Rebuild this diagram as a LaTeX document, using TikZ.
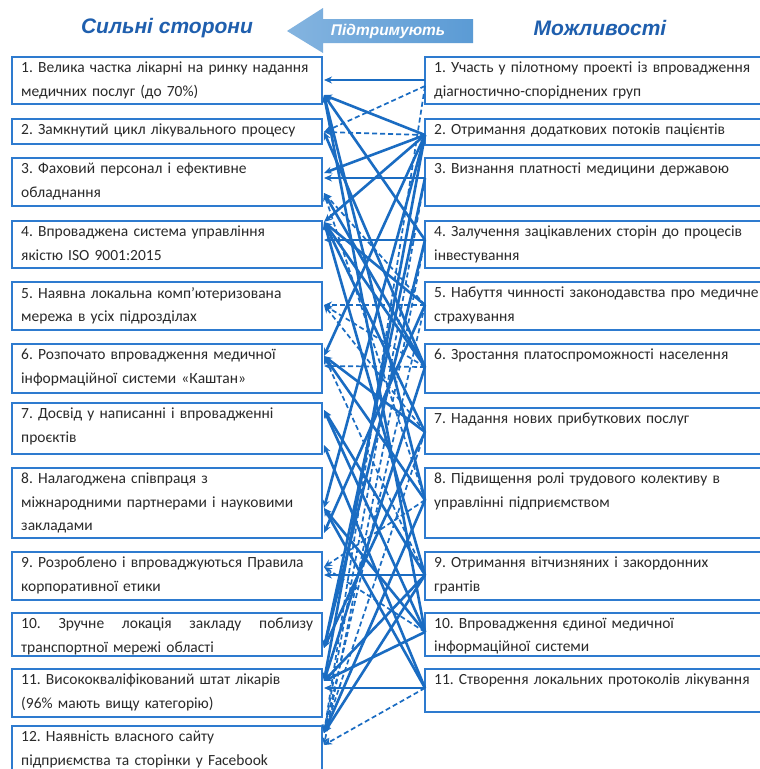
\documentclass[tikz,border=0pt]{standalone}
\usepackage{fontspec}
\setmainfont{Carlito}
\newfontfamily\headfont{Liberation Sans}
\usetikzlibrary{arrows.meta}
\frenchspacing
\definecolor{boxblue}{HTML}{2E7BCF}
\definecolor{lineblue}{HTML}{1A6CC2}
\definecolor{headblue}{HTML}{1F5FAE}
\definecolor{arrowblue}{HTML}{5B9BD5}
\definecolor{txtgray}{HTML}{2A2A2A}
\newcommand\LBox[4]{%
  \node[boxshape, minimum width=310pt, minimum height={#3-#2}] (L#1) at (167,{(#2+#3)/2}) {};
  \node[btext, text width=292pt] at (21,{#2+5}) {#4};}
\newcommand\RBox[4]{%
  \node[boxshape, minimum width=350pt, minimum height={#3-#2}] (R#1) at (600,{(#2+#3)/2}) {};
  \node[btext, text width=340pt] at (434,{#2+5}) {#4};}
\begin{document}
\begin{tikzpicture}[x=1pt,y=-1pt,
  boxshape/.style={draw=boxblue, line width=1.6pt, inner sep=0pt},
  btext/.style={anchor=north west, inner sep=0pt, align=left, text=txtgray,
    font=\fontsize{15.5}{23.5}\selectfont},
  heading/.style={font=\headfont\fontsize{21}{24}\selectfont\bfseries\itshape, text=headblue},
  sline/.style={draw=lineblue, line width=2.6pt, -{Stealth[length=8pt,width=7pt]}},
  dline/.style={draw=lineblue, line width=1.7pt, dash pattern=on 5pt off 3pt, -{Stealth[length=8pt,width=7pt]}}]
\useasboundingbox (0,0) rectangle (760,769);
\fill[white] (0,0) rectangle (760,769);

% headings
\node[heading] (hs) at (167,28) {Сильні сторони};
\node[heading] (hm) at (600,28) {Можливості};
\shade[left color=arrowblue!75!white, right color=arrowblue]
  (287,31) -- (323,8) -- (323,19) -- (473,19) -- (473,43) -- (323,43) -- (323,53) -- cycle;
\node[font=\headfont\fontsize{15.5}{18}\selectfont\bfseries\itshape, text=white] (ha) at (388,31) {Підтримують};

% left boxes
\LBox{1}{57}{104}{1. Велика частка лікарні на ринку надання\\медичних послуг (до 70\%)}
\LBox{2}{119}{144}{2. Замкнутий цикл лікувального процесу}
\LBox{3}{158}{206}{3. Фаховий персонал і ефективне\\обладнання}
\LBox{4}{221}{268}{4. Впроваджена система управління\\якістю ISO 9001:2015}
\LBox{5}{282}{330}{5. Наявна локальна комп’ютеризована\\мережа в усіх підрозділах}
\LBox{6}{344}{393}{6. Розпочато впровадження медичної\\інформаційної системи «Каштан»}
\LBox{7}{403}{454}{7. Досвід у написанні і впровадженні\\проєктів}
\LBox{8}{468}{538}{8. Налагоджена співпраця з\\міжнародними партнерами і науковими\\закладами}
\LBox{9}{552}{600}{9. Розроблено і впроваджуються Правила\\корпоративної етики}
\LBox{10}{613}{656}{10.\hfill Зручне\hfill локація\hfill закладу\hfill поблизу\\транспортної мережі області}
\LBox{11}{669}{717}{11. Висококваліфікований штат лікарів\\(96\% мають вищу категорію)}
\LBox{12}{726}{790}{12. Наявність власного сайту\\підприємства та сторінки у Facebook}

% right boxes
\RBox{1}{57}{104}{1. Участь у пілотному проекті із впровадження\\діагностично-споріднених груп}
\RBox{2}{119}{145}{2. Отримання додаткових потоків пацієнтів}
\RBox{3}{158}{206}{3. Визнання платності медицини державою}
\RBox{4}{221}{268}{4. Залучення зацікавлених сторін до процесів\\інвестування}
\RBox{5}{282}{330}{5. Набуття чинності законодавства про медичне\\страхування}
\RBox{6}{344}{393}{6. Зростання платоспроможності населення}
\RBox{7}{408}{454}{7. Надання нових прибуткових послуг}
\RBox{8}{468}{538}{8. Підвищення ролі трудового колективу в\\управлінні підприємством}
\RBox{9}{552}{600}{9. Отримання вітчизняних і закордонних\\грантів}
\RBox{10}{613}{656}{10. Впровадження єдиної медичної\\інформаційної системи}
\RBox{11}{669}{712}{11. Створення локальних протоколів лікування}

% connector end points
\coordinate (r1h) at (425,80);  \coordinate (r1) at (425,86);
\coordinate (r2) at (425,135);  \coordinate (r3) at (425,178);
\coordinate (r4) at (425,240);  \coordinate (r5) at (425,305);
\coordinate (r6) at (425,367);  \coordinate (r7) at (425,432);
\coordinate (r8) at (425,500);  \coordinate (r9) at (425,575);
\coordinate (r10) at (425,632); \coordinate (r11) at (425,688);
\coordinate (t1h) at (324,80);  \coordinate (t1) at (324,95);
\coordinate (t2) at (324,132);
\coordinate (t3) at (324,173);  \coordinate (t3h) at (324,178); \coordinate (t3b) at (324,193);
\coordinate (t4) at (324,222);  \coordinate (t4h) at (324,240);
\coordinate (t5) at (324,305);
\coordinate (t6) at (324,356);  \coordinate (t6h) at (324,366);
\coordinate (t7) at (324,410);  \coordinate (t7b) at (324,445);
\coordinate (t8) at (324,508);  \coordinate (t8b) at (324,533);
\coordinate (t9b) at (324,567); \coordinate (t9) at (324,575);
\coordinate (t10) at (324,648);
\coordinate (t11) at (324,681); \coordinate (t11h) at (324,688);
\coordinate (t12) at (324,733); \coordinate (t12b) at (324,745);

% dashed connectors
\foreach \a/\b in {r1/t2, r2/t2, r5/t5, r6/t6h, r11/t12b, r1/t12, r5/t3b, r8/t3b,
  r6/t5, r7/t5, r3/t12, r4/t12b, r9/t6, r8/t9b, r10/t9b, r5/t12, r7/t12}
  \draw[dline] (\a) -- (\b);

% solid connectors
\foreach \a/\b in {r1h/t1h, r2/t1, r4/t1, r8/t1, r10/t1, r2/t3, r3/t3h, r4/t4h,
  r2/t4, r2/t6, r2/t8, r2/t11, r6/t2, r5/t4, r6/t4, r7/t4, r9/t4, r6/t3b,
  r7/t6, r8/t6, r9/t7, r10/t7, r9/t9, r11/t8, r10/t8, r9/t11, r10/t11,
  r11/t11h, r8/t12, r9/t12, r11/t7b, r3/t10, r4/t10, r6/t11, r5/t8b, r7/t10}
  \draw[sline] (\a) -- (\b);
\end{tikzpicture}
\end{document}
